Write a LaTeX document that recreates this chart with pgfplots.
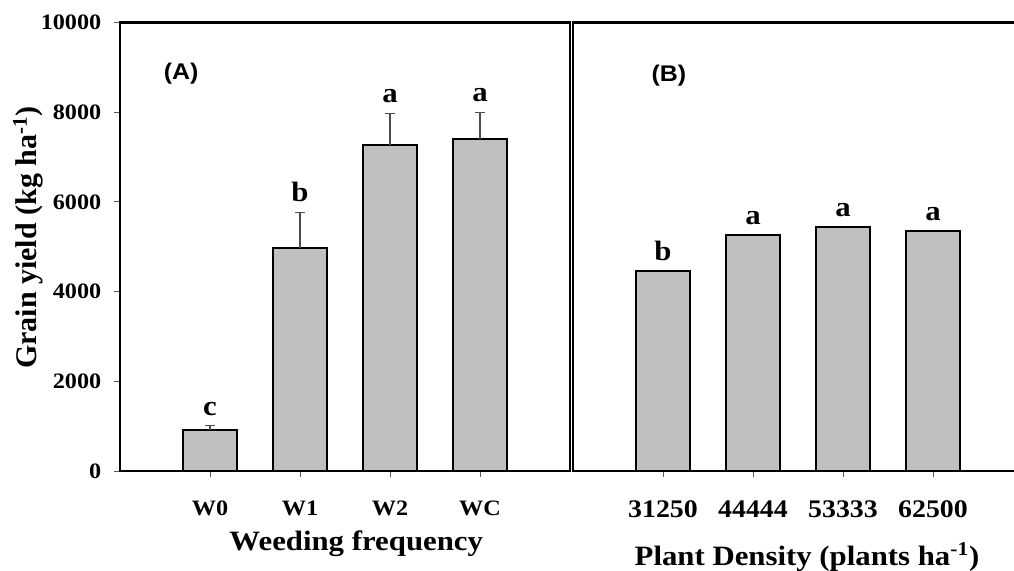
\documentclass[border=0pt]{standalone}
\usepackage{fontspec}
\setmainfont{Liberation Serif}[FakeStretch=1.1]
\newfontfamily\ylabfont{Liberation Serif}
\newfontfamily\panelfont{Liberation Sans}[FakeStretch=1.1]
\usepackage{pgfplots}
\usepackage{pgfplotstable}
\pgfplotsset{compat=1.18}

\definecolor{barfill}{HTML}{C0C0C0}

% weeding frequency: mean, upper error, top of error bar, letter
\pgfplotstableread{
x y err top lab
0 920 90 1010 c
1 4970 800 5770 b
2 7270 710 7980 a
3 7400 600 8000 a
}\weeding

% plant density
\pgfplotstableread{
x y lab
0 4450 b
1 5270 a
2 5430 a
3 5340 a
}\density

\pgfplotsset{
  panel/.style={
    scale only axis,
    width=337.5pt, height=336.4pt,
    xmin=-1, xmax=4, ymin=0, ymax=10000,
    xtick={0,1,2,3},
    scaled ticks=false,
    axis line style={line width=2.2pt},
    tick align=outside,
    major tick length=4.5pt,
    every tick/.style={gray!70!black, line width=0.7pt},
    xtick pos=bottom, ytick pos=left,
    tick label style={font=\fontsize{16.5}{18}\selectfont\bfseries},
    xticklabel style={text height=12pt, text depth=0pt},
    label style={font=\fontsize{21}{24}\selectfont\bfseries},
    /pgf/number format/.cd, 1000 sep={}, assume math mode=true,
  },
  bars/.style={ybar, bar width=0.6, fill=barfill, draw=black, line width=1.5pt},
  letters/.style={draw=none, mark=none, nodes near coords,
    point meta=explicit symbolic,
    nodes near coords style={font=\fontsize{21}{24}\selectfont\bfseries,
      anchor=south, inner sep=0pt, yshift=7.5pt}},
}

\begin{document}
\begin{tikzpicture}
\begin{axis}[panel,
  at={(90pt,75pt)}, anchor=south west,
  ytick={0,2000,4000,6000,8000,10000},
  xticklabels={W0,W1,W2,WC},
  xticklabel style={yshift=-13pt},
  yticklabel style={xshift=-6pt},
  xlabel={Weeding frequency},
  xlabel style={at={(axis description cs:0.525,-0.163)}, anchor=center},
  ylabel={\ylabfont\fontsize{22.5}{26}\selectfont\bfseries Grain yield (kg ha\textsuperscript{-1})},
  ylabel style={at={(axis description cs:-0.204,0.52)}, anchor=center, rotate=0},
]
\addplot[bars,
  error bars/.cd, y dir=plus, y explicit,
  error bar style={gray!60!black, line width=0.8pt},
  error mark options={gray!60!black, line width=0.8pt, mark size=3.75pt, rotate=90}]
  table[x=x, y=y, y error=err] {\weeding};
\addplot[letters] table[x=x, y=top, meta=lab] {\weeding};
\node[font=\panelfont\fontsize{17}{20}\selectfont\bfseries] at (axis description cs:0.136,0.887) {(A)};
\end{axis}

\begin{axis}[panel,
  at={(429.75pt,75pt)}, anchor=south west,
  ytick=\empty,
  xticklabels={31250,44444,53333,62500},
  xticklabel style={yshift=-15pt, font=\fontsize{19}{22}\selectfont\bfseries},
  xlabel={Plant Density (plants ha\textsuperscript{-1})},
  xlabel style={at={(axis description cs:0.52,-0.192)}, anchor=center},
]
\addplot[bars] table[x=x, y=y] {\density};
\addplot[letters] table[x=x, y=y, meta=lab] {\density};
\node[font=\panelfont\fontsize{17}{20}\selectfont\bfseries] at (axis description cs:0.213,0.881) {(B)};
\end{axis}

\pgfresetboundingbox
\useasboundingbox (0,0) rectangle (760.5pt,428.25pt);
\end{tikzpicture}
\end{document}
